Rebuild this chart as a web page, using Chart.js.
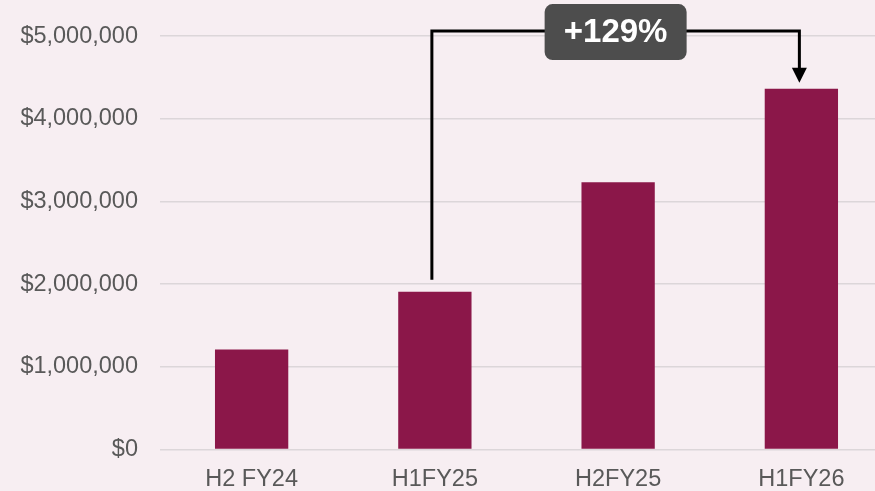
<!DOCTYPE html>
<html>
<head>
<meta charset="utf-8">
<script src="https://cdn.jsdelivr.net/npm/chart.js@4.4.0/dist/chart.umd.min.js"></script>
<style>
  html, body { margin: 0; padding: 0; background: #f7eef2; overflow: hidden; }
  #revenueChart { display: block; }
</style>
</head>
<body>
<canvas id="revenueChart" width="893" height="491"></canvas>
<script>
const periods = ["H2 FY24", "H1FY25", "H2FY25", "H1FY26"];
const revenue = [1210000, 1908000, 3233000, 4362000];
const yTicks = [0, 1000000, 2000000, 3000000, 4000000, 5000000];
const growthLabel = "+129%";
const growthFrom = 1;
const growthTo = 3;

// bracket + arrow + badge drawn over the bars
const growthArrow = {
  id: "growthArrow",
  afterDatasetsDraw(chart) {
    const ctx = chart.ctx;
    const x = chart.scales.x;
    const y = chart.scales.y;
    const x1 = x.getPixelForValue(growthFrom) - 3;
    const x2 = x.getPixelForValue(growthTo) - 2;
    const yStart = y.getPixelForValue(revenue[growthFrom]) - 12;
    const yTop = y.getPixelForValue(yTicks[yTicks.length - 1]) - 5;
    const tip = y.getPixelForValue(revenue[growthTo]) - 6;

    ctx.save();
    ctx.strokeStyle = "#000";
    ctx.lineWidth = 3;
    ctx.beginPath();
    ctx.moveTo(x1, yStart);
    ctx.lineTo(x1, yTop);
    ctx.lineTo(x2, yTop);
    ctx.lineTo(x2, tip - 14);
    ctx.stroke();

    ctx.fillStyle = "#000";
    ctx.beginPath();
    ctx.moveTo(x2 - 7.5, tip - 15);
    ctx.lineTo(x2 + 7.5, tip - 15);
    ctx.lineTo(x2, tip);
    ctx.closePath();
    ctx.fill();

    const cx = (x1 + x2) / 2;
    const w = 142, h = 56, r = 8;
    const bx = cx - w / 2, by = yTop - 27;
    ctx.fillStyle = "#4d4d4d";
    ctx.beginPath();
    ctx.roundRect(bx, by, w, h, r);
    ctx.fill();

    ctx.fillStyle = "#ffffff";
    ctx.font = "bold 33px 'Liberation Sans', Arial, sans-serif";
    ctx.textAlign = "center";
    ctx.textBaseline = "middle";
    ctx.fillText(growthLabel, cx, by + h / 2 + 1);
    ctx.restore();
  },
};

const ctx = document.getElementById("revenueChart").getContext("2d");
new Chart(ctx, {
  type: "bar",
  data: {
    labels: periods,
    datasets: [
      {
        data: revenue,
        backgroundColor: "#8b1749",
        borderWidth: 0,
        barPercentage: 0.4,
        categoryPercentage: 1,
      },
    ],
  },
  options: {
    responsive: false,
    animation: false,
    layout: { padding: { top: 34, bottom: 0, left: 0, right: 0 } },
    plugins: {
      legend: { display: false },
      tooltip: { enabled: false },
    },
    scales: {
      x: {
        afterFit(scale) {
          scale.height = 41.5;
        },
        grid: { display: false },
        border: { display: false },
        ticks: {
          color: "#595959",
          padding: 8,
          maxRotation: 0,
          font: { family: "'Liberation Sans', Arial, sans-serif", size: 23.5 },
        },
      },
      y: {
        min: 0,
        max: 5000000,
        afterFit(scale) {
          scale.width = 160;
        },
        afterBuildTicks(scale) {
          scale.ticks = yTicks.map((v) => ({ value: v }));
        },
        grid: { color: "#dcd6d9", lineWidth: 1.5, drawTicks: false },
        border: { display: false },
        ticks: {
          color: "#595959",
          padding: 22,
          font: { family: "'Liberation Sans', Arial, sans-serif", size: 23.5 },
          callback: (v) => "$" + v.toLocaleString("en-US"),
        },
      },
    },
  },
  plugins: [growthArrow],
});
</script>
</body>
</html>
